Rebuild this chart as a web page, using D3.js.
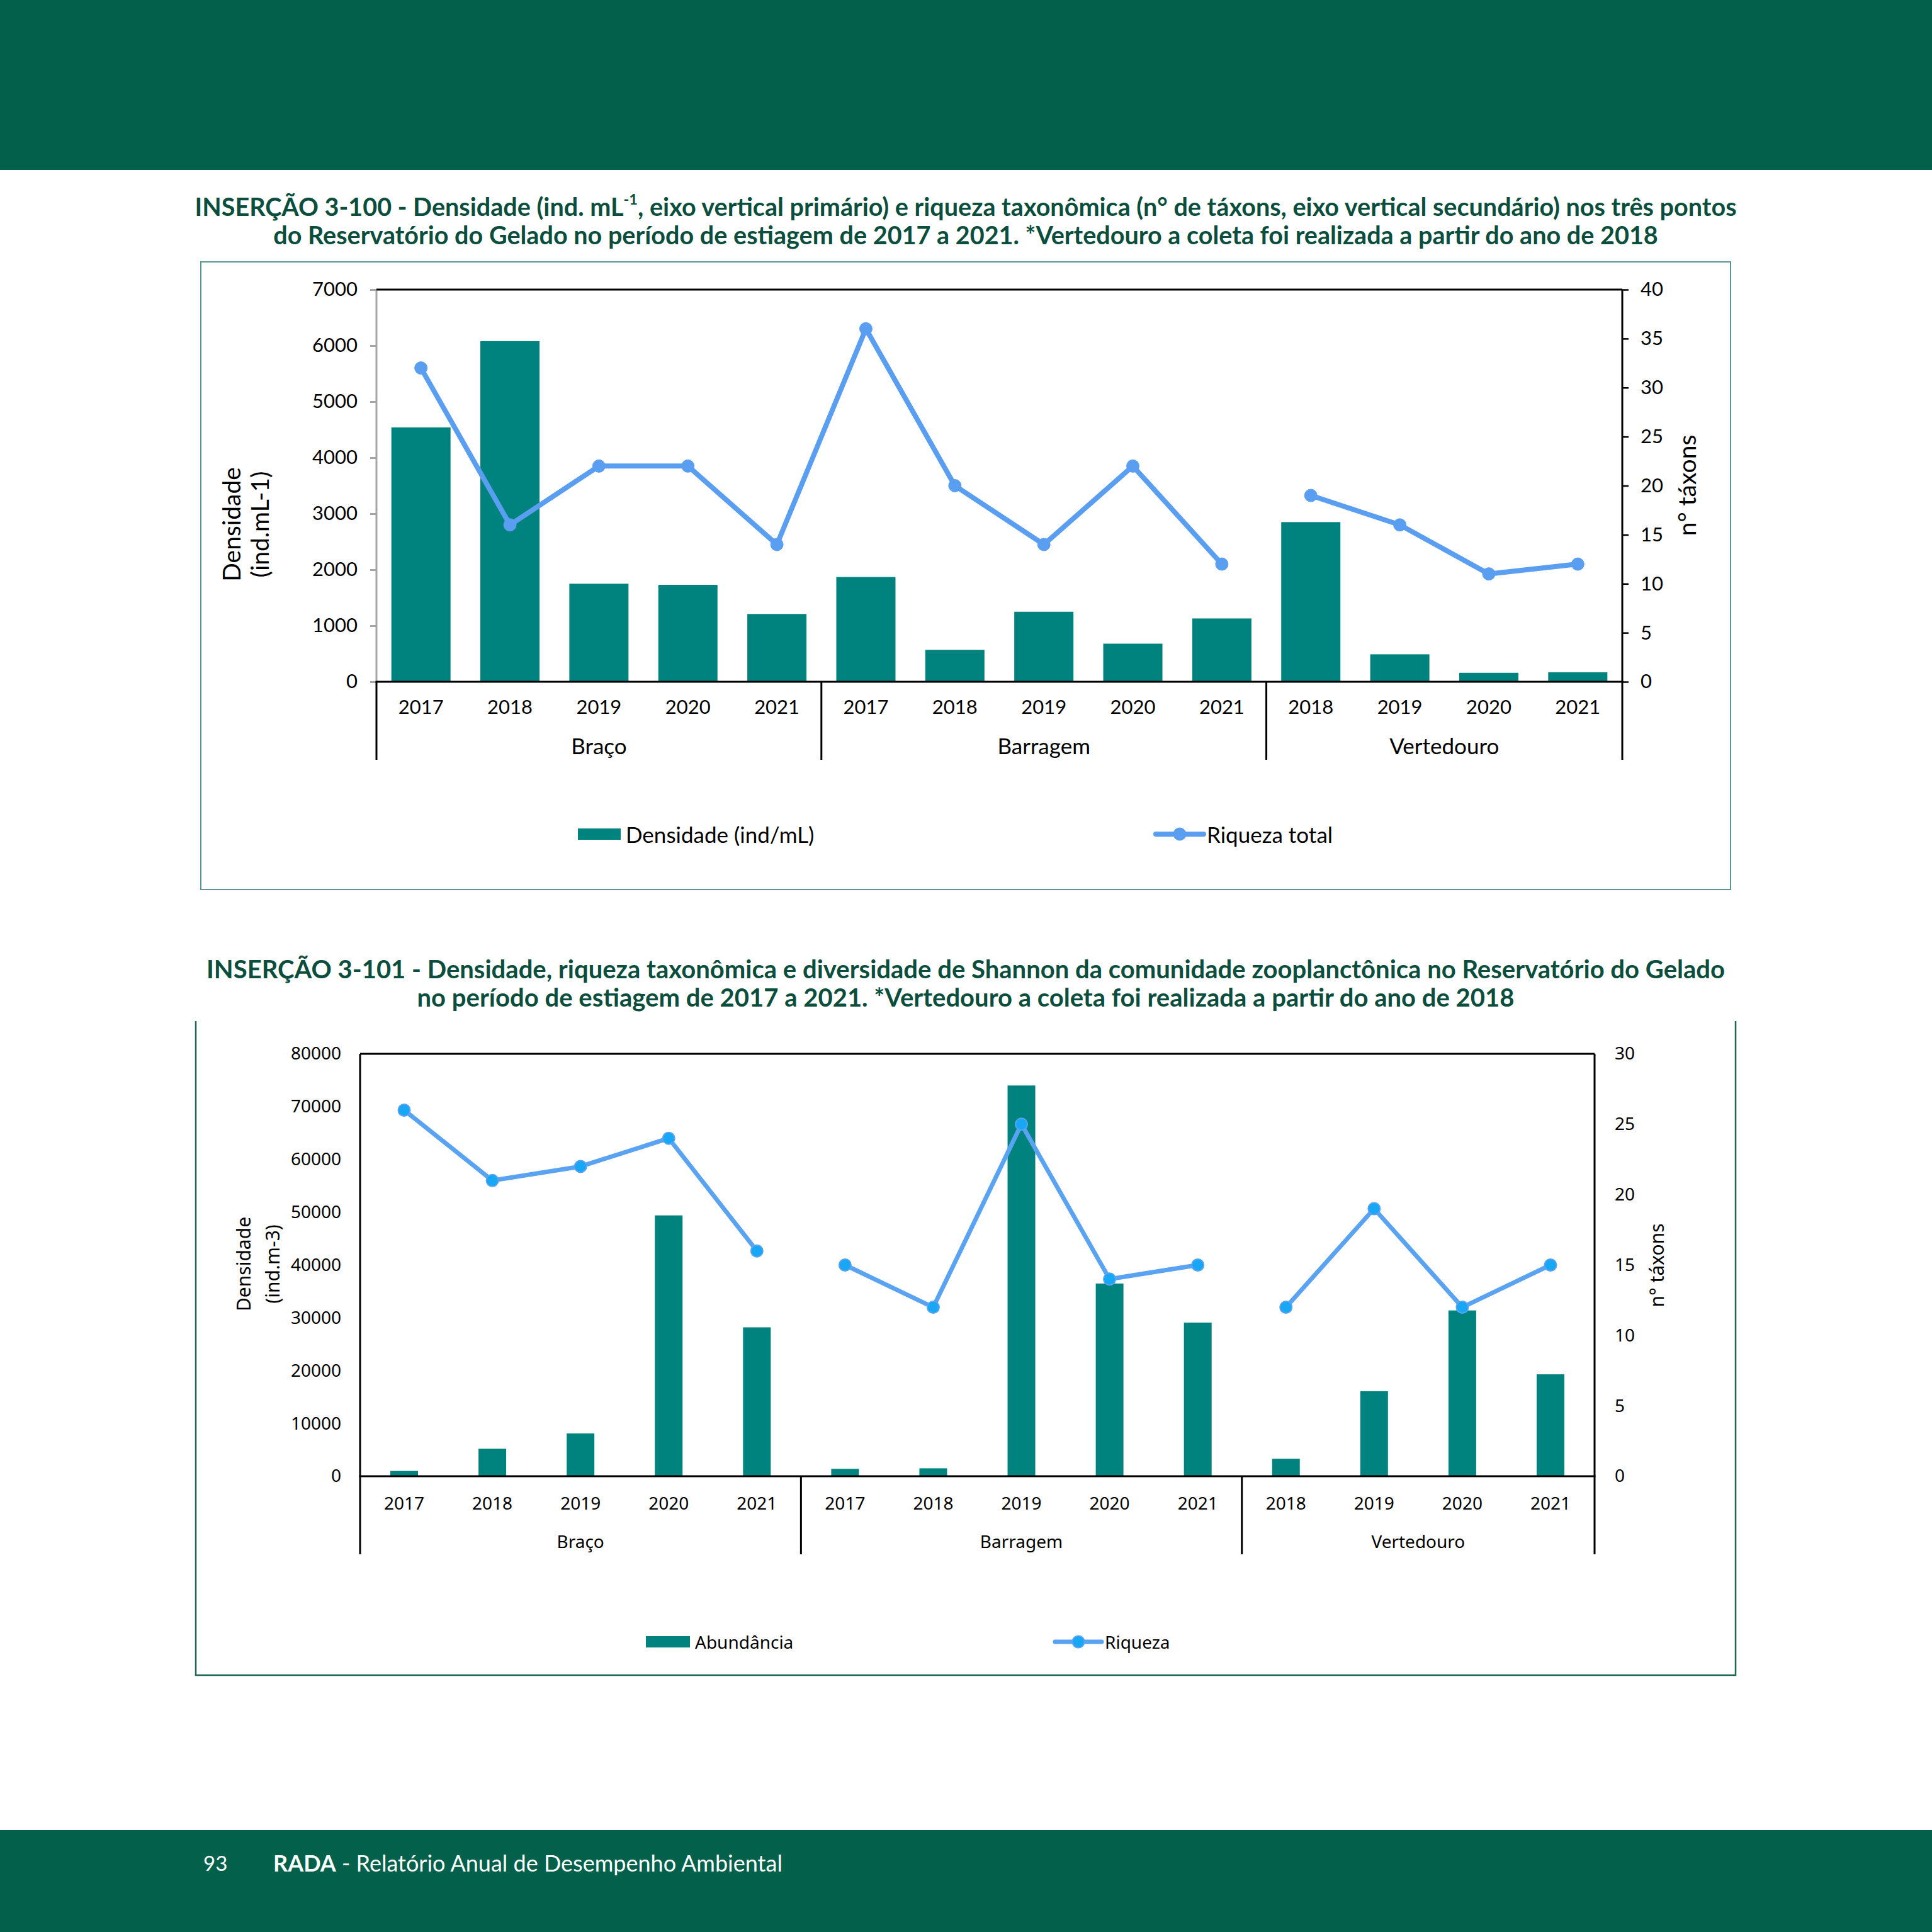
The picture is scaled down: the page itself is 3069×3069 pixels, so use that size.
<!DOCTYPE html>
<html><head><meta charset="utf-8">
<script src="https://cdn.jsdelivr.net/npm/d3@7"></script>
<style>body{margin:0;background:#fff}</style>
</head><body>
<svg id="c" width="3069" height="3069" xmlns="http://www.w3.org/2000/svg"></svg>
<script>
// ---------- DATA ----------
const sites = ["Braço","Braço","Braço","Braço","Braço","Barragem","Barragem","Barragem","Barragem","Barragem","Vertedouro","Vertedouro","Vertedouro","Vertedouro"];
const years = ["2017","2018","2019","2020","2021","2017","2018","2019","2020","2021","2018","2019","2020","2021"];

const densidade1 = [4540,6080,1750,1730,1210,1870,570,1250,680,1130,2850,490,160,170];
const riqueza1   = [32,16,22,22,14,36,20,14,22,12,19,16,11,12];
const densTicks1 = [0,1000,2000,3000,4000,5000,6000,7000];
const taxTicks1  = [0,5,10,15,20,25,30,35,40];
const lineSegments1 = [["Braço","Barragem"],["Vertedouro"]];

const abundancia2 = [1000,5200,8100,49400,28200,1400,1500,74000,36500,29100,3300,16100,31400,19300];
const riqueza2    = [26,21,22,24,16,15,12,25,14,15,12,19,12,15];
const densTicks2  = [0,10000,20000,30000,40000,50000,60000,70000,80000];
const taxTicks2   = [0,5,10,15,20,25,30];
const lineSegments2 = [["Braço"],["Barragem"],["Vertedouro"]];

const title1 = ["INSERÇÃO 3-100 - Densidade (ind. mL", "-1", ", eixo vertical primário) e riqueza taxonômica (n° de táxons, eixo vertical secundário) nos três pontos"];
const title1b = "do Reservatório do Gelado no período de estiagem de 2017 a 2021. *Vertedouro a coleta foi realizada a partir do ano de 2018";
const title2 = "INSERÇÃO 3-101 - Densidade, riqueza taxonômica e diversidade de Shannon da comunidade zooplanctônica no Reservatório do Gelado";
const title2b = "no período de estiagem de 2017 a 2021. *Vertedouro a coleta foi realizada a partir do ano de 2018";

// ---------- DRAW ----------
const svg = d3.select("#c");
const BAND = "#03604a";
const TITLE = "#0b4e3d";
svg.append("rect").attr("x",0).attr("y",0).attr("width",3069).attr("height",3069).attr("fill","#fff");
svg.append("rect").attr("x",0).attr("y",0).attr("width",3069).attr("height",270).attr("fill",BAND);
svg.append("rect").attr("x",0).attr("y",2907).attr("width",3069).attr("height",162).attr("fill",BAND);

function fit(sel, target){
  const w = sel.node().getComputedTextLength();
  const fs = parseFloat(sel.attr("font-size"));
  return fs*target/w;
}

// Titles
function drawTitle(parts, line2, y1, y2, w1, font){
  const t = svg.append("text").attr("x",1534).attr("y",y1).attr("text-anchor","middle")
    .attr("dominant-baseline","central").attr("font-family",font).attr("font-weight","bold")
    .attr("font-size",36).attr("fill",TITLE);
  if (Array.isArray(parts)) {
    t.append("tspan").text(parts[0]);
    t.append("tspan").text(parts[1]).attr("font-size","0.6em").attr("dy","-0.45em");
    t.append("tspan").text(parts[2]).attr("dy","0.27em");
  } else t.text(parts);
  const fs = fit(t, w1);
  t.attr("font-size", fs);
  svg.append("text").attr("x",1534).attr("y",y2).attr("text-anchor","middle")
    .attr("dominant-baseline","central").attr("font-family",font).attr("font-weight","bold")
    .attr("font-size",fs).attr("fill",TITLE).text(line2);
}
drawTitle(title1, title1b, 327, 372, 2450, "Lato");
drawTitle(title2, title2b, 1538, 1583, 2413, "Lato");

// Frames
svg.append("rect").attr("x",319).attr("y",416).attr("width",2430).attr("height",997)
  .attr("fill","none").attr("stroke","#5b978c").attr("stroke-width",2);
svg.append("path").attr("d","M311,1622 V2661 H2757 V1622").attr("fill","none")
  .attr("stroke","#1f6656").attr("stroke-width",2.5);

function drawChart(c){
  const g = svg.append("g");
  const n = c.years.length;
  const x = d3.scaleBand().domain(d3.range(n)).range([c.left, c.right])
    .paddingInner(c.pad).paddingOuter(c.pad/2);
  const step = x.step();
  const yL = d3.scaleLinear().domain([0, d3.max(c.leftTicks)]).range([c.bottom, c.top]);
  const yR = d3.scaleLinear().domain([0, d3.max(c.rightTicks)]).range([c.bottom, c.top]);
  const cx = i => x(i) + x.bandwidth()/2;

  // bars
  g.selectAll("rect.bar").data(c.bars).join("rect").attr("class","bar")
    .attr("x",(d,i)=>x(i)).attr("width",x.bandwidth())
    .attr("y",d=>yL(d)).attr("height",d=>yL(0)-yL(d)).attr("fill","#00827f");

  // axes
  const ax = g.append("g").attr("transform",`translate(${c.left},0)`)
    .call(d3.axisLeft(yL).tickValues(c.leftTicks).tickSize(c.tick).tickPadding(c.lPad).tickFormat(d3.format("d")));
  ax.select(".domain").remove();
  ax.selectAll("line").attr("stroke",c.leftTickColor).attr("stroke-width",3);
  ax.selectAll("text").attr("font-family",c.font).attr("font-size",c.numSize).attr("fill","#000");
  const ar = g.append("g").attr("transform",`translate(${c.right},0)`)
    .call(d3.axisRight(yR).tickValues(c.rightTicks).tickSize(c.tick).tickPadding(c.rPad));
  ar.select(".domain").remove();
  ar.selectAll("line").attr("stroke","#000").attr("stroke-width",2.5);
  ar.selectAll("text").attr("font-family",c.font).attr("font-size",c.numSize).attr("fill","#000");

  // frame lines
  g.append("line").attr("x1",c.left).attr("x2",c.left).attr("y1",c.top).attr("y2",c.bottom)
    .attr("stroke",c.leftAxisColor).attr("stroke-width",3);
  g.append("line").attr("x1",c.left).attr("x2",c.right).attr("y1",c.top).attr("y2",c.top)
    .attr("stroke","#000").attr("stroke-width",3);
  g.append("line").attr("x1",c.left-1.5).attr("x2",c.right+1.5).attr("y1",c.bottom).attr("y2",c.bottom)
    .attr("stroke","#000").attr("stroke-width",3);
  g.append("line").attr("x1",c.right).attr("x2",c.right).attr("y1",c.top).attr("y2",c.catBottom)
    .attr("stroke","#000").attr("stroke-width",3);
  // group separators
  const groups = [];
  c.sites.forEach((s,i)=>{ if(!groups.length || groups[groups.length-1].name!==s) groups.push({name:s,start:i,end:i}); else groups[groups.length-1].end=i; });
  groups.forEach(gr=>{
    const x0 = x(gr.start) - step*c.pad/2;
    const x1 = x(gr.end) + x.bandwidth() + step*c.pad/2;
    g.append("line").attr("x1",x0).attr("x2",x0).attr("y1",c.bottom).attr("y2",c.catBottom)
      .attr("stroke","#000").attr("stroke-width",3);
    g.append("text").attr("x",(x0+x1)/2).attr("y",c.groupY).attr("text-anchor","middle")
      .attr("dominant-baseline","central").attr("font-family",c.font).attr("font-size",c.txtSize).text(gr.name);
  });
  // year labels
  g.selectAll("text.yr").data(c.years).join("text").attr("class","yr")
    .attr("x",(d,i)=>cx(i)).attr("y",c.yearY).attr("text-anchor","middle")
    .attr("dominant-baseline","central").attr("font-family",c.font).attr("font-size",c.numSize).text(d=>d);

  // line segments
  const line = d3.line().x(d=>cx(d.i)).y(d=>yR(d.v));
  c.segments.forEach(seg=>{
    const pts = c.line.map((v,i)=>({v,i})).filter(d=>seg.includes(c.sites[d.i]));
    g.append("path").datum(pts).attr("d",line).attr("fill","none")
      .attr("stroke",c.lineColor).attr("stroke-width",c.lineW).attr("stroke-linejoin","round");
  });
  g.selectAll("circle.m").data(c.line).join("circle").attr("class","m")
    .attr("cx",(d,i)=>cx(i)).attr("cy",d=>yR(d)).attr("r",c.markR)
    .attr("fill",c.markFill).attr("stroke",c.lineColor).attr("stroke-width",c.markStroke);

  // axis titles
  c.leftTitle.forEach((t,k)=>{
    g.append("text").attr("transform",`translate(${c.leftTitleX[k]},${c.leftTitleY}) rotate(-90)`)
      .attr("text-anchor","middle").attr("dominant-baseline","central")
      .attr("font-family",c.font).attr("font-size",c.titleSize).text(t);
  });
  g.append("text").attr("transform",`translate(${c.rightTitleX},${c.rightTitleY}) rotate(-90)`)
    .attr("text-anchor","middle").attr("dominant-baseline","central")
    .attr("font-family",c.font).attr("font-size",c.titleSize).text(c.rightTitle);

  // legend
  const L = c.legend;
  g.append("rect").attr("x",L.sx).attr("y",L.y-L.sh/2).attr("width",L.sw).attr("height",L.sh).attr("fill","#00827f");
  g.append("text").attr("x",L.sx+L.sw+8).attr("y",L.y).attr("dominant-baseline","central")
    .attr("font-family",c.font).attr("font-size",L.size).text(L.barLabel);
  g.append("line").attr("x1",L.lx).attr("x2",L.lx+L.lw).attr("y1",L.y).attr("y2",L.y)
    .attr("stroke",c.lineColor).attr("stroke-width",c.lineW).attr("stroke-linecap","round");
  g.append("circle").attr("cx",L.lx+L.lw/2).attr("cy",L.y).attr("r",c.markR)
    .attr("fill",c.markFill).attr("stroke",c.lineColor).attr("stroke-width",c.markStroke);
  g.append("text").attr("x",L.lx+L.lw+5).attr("y",L.y).attr("dominant-baseline","central")
    .attr("font-family",c.font).attr("font-size",L.size).text(L.lineLabel);
}

drawChart({
  sites, years, bars: densidade1, line: riqueza1, leftTicks: densTicks1, rightTicks: taxTicks1,
  segments: lineSegments1, left:598, right:2577, top:460, bottom:1083, catBottom:1207,
  pad:0.335, tick:10, lPad:20, rPad:19, leftTickColor:"#a6a6a6", leftAxisColor:"#a6a6a6",
  font:"Lato", numSize:31, txtSize:35, titleSize:39, yearY:1122, groupY:1184,
  lineColor:"#5a9ef2", markFill:"#5a9ef2", lineW:8, markR:10, markStroke:1,
  leftTitle:["Densidade","(ind.mL-1)"], leftTitleX:[367,412], leftTitleY:833,
  rightTitle:"n° táxons", rightTitleX:2679, rightTitleY:771,
  legend:{sx:918, sw:68, sh:18, y:1325, size:35, barLabel:"Densidade (ind/mL)", lx:1836, lw:76, lineLabel:"Riqueza total"}
});

drawChart({
  sites, years, bars: abundancia2, line: riqueza2, leftTicks: densTicks2, rightTicks: taxTicks2,
  segments: lineSegments2, left:572, right:2533, top:1674, bottom:2345, catBottom:2469,
  pad:0.686, tick:0, lPad:30, rPad:32, leftTickColor:"#000", leftAxisColor:"#000",
  font:"Noto Sans", numSize:28, txtSize:28, titleSize:30, yearY:2387, groupY:2448,
  lineColor:"#5aa2f2", markFill:"#17a7f5", lineW:7, markR:9.5, markStroke:2,
  leftTitle:["Densidade","(ind.m-3)"], leftTitleX:[386,432], leftTitleY:2008,
  rightTitle:"n° táxons", rightTitleX:2631, rightTitleY:2010,
  legend:{sx:1026, sw:70, sh:18, y:2608, size:28, barLabel:"Abundância", lx:1676, lw:74, lineLabel:"Riqueza"}
});

// Footer
svg.append("text").attr("x",323).attr("y",2959).attr("dominant-baseline","central")
  .attr("font-family","Lato").attr("font-size",33).attr("fill","#fff").text("93");
const ft = svg.append("text").attr("x",434).attr("y",2959).attr("dominant-baseline","central")
  .attr("font-family","Lato").attr("font-size",33).attr("fill","#fff");
ft.append("tspan").attr("font-weight","bold").text("RADA");
ft.append("tspan").text(" - Relatório Anual de Desempenho Ambiental");
ft.attr("font-size", fit(ft, 809));
</script>
</body></html>
